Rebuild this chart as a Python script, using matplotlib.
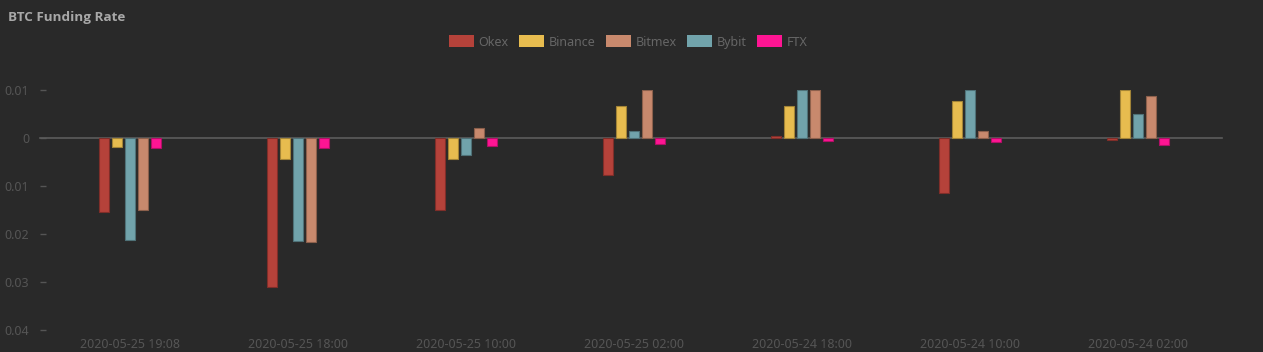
import matplotlib
matplotlib.use("Agg")
import matplotlib.pyplot as plt
import numpy as np
from matplotlib.patches import Patch

categories = ["2020-05-25 19:08", "2020-05-25 18:00", "2020-05-25 10:00", "2020-05-25 02:00",
              "2020-05-24 18:00", "2020-05-24 10:00", "2020-05-24 02:00"]
okex    = [-0.0155, -0.0311, -0.0151, -0.0077, 0.0005, -0.0115, -0.0005]
binance = [-0.0018, -0.0044, -0.0044, 0.0067, 0.0067, 0.0078, 0.0100]
bybit   = [-0.0213, -0.0214, -0.0036, 0.0015, 0.0100, 0.0100, 0.0049]
bitmex  = [-0.0149, -0.0217, 0.0021, 0.0100, 0.0100, 0.0015, 0.0088]
ftx     = [-0.0021, -0.0021, -0.0017, -0.0012, -0.0007, -0.0009, -0.0014]
ytick_vals = [0.01, 0, -0.01, -0.02, -0.03, -0.04]
ytick_labels = ["0.01", "0", "0.01", "0.02", "0.03", "0.04"]

series = [("Okex", okex, "#b5423a"), ("Binance", binance, "#e7bc4f"),
          ("Bybit", bybit, "#71a3ab"), ("Bitmex", bitmex, "#c8896d"),
          ("FTX", ftx, "#fe1593")]
legend_order = ["Okex", "Binance", "Bitmex", "Bybit", "FTX"]

plt.rcParams['font.family'] = ['Noto Sans', 'DejaVu Sans']
bg = "#292929"
W, H = 1263, 352
fig = plt.figure(figsize=(W/100, H/100), dpi=100, facecolor=bg)
ax = fig.add_axes([46/W, (H-330)/H, (1222-46)/W, (330-90)/H], facecolor=bg)

x = np.arange(len(categories))
pitch = 13/168
bw = 10/168

def darker(c, f=0.7):
    r, g, b = matplotlib.colors.to_rgb(c)
    return (r*f, g*f, b*f)

for i, (name, vals, col) in enumerate(series):
    ax.bar(x + (i-2)*pitch, vals, width=bw, color=col, edgecolor=darker(col), linewidth=0.8, zorder=3)

ax.set_xlim(-0.5, len(categories)-0.5)
ax.set_ylim(-0.04, 0.01)
ax.axhline(0, color="#5c5c5c", lw=1.2, zorder=2, xmin=-0.005, clip_on=False)

for s in ax.spines.values():
    s.set_visible(False)
ax.set_yticks(ytick_vals)
ax.set_yticklabels(ytick_labels)
ax.set_xticks(x)
ax.set_xticklabels(categories)
ax.tick_params(axis='y', colors="#555555", labelcolor="#555555", length=4, width=1, pad=8, labelsize=9)
ax.tick_params(axis='x', length=0, pad=6, labelcolor="#555555", labelsize=9)

fig.text(8/W, 1-18/H, "BTC Funding Rate", color="#a8a8a8", fontsize=9.7, fontweight="bold",
         family=["Open Sans", "DejaVu Sans"], va="center", ha="left")

colmap = {n: c for n, _, c in series}
handles = [Patch(facecolor=colmap[n], edgecolor='none', label=n) for n in legend_order]
leg = fig.legend(handles=handles, loc="center", bbox_to_anchor=(628/W, 1-42/H), ncol=5, frameon=False,
                 fontsize=9, handlelength=2.0, handleheight=1.1, handletextpad=0.4, columnspacing=0.8,
                 labelcolor="#666666")

fig.savefig("out.png", dpi=100, facecolor=bg)
